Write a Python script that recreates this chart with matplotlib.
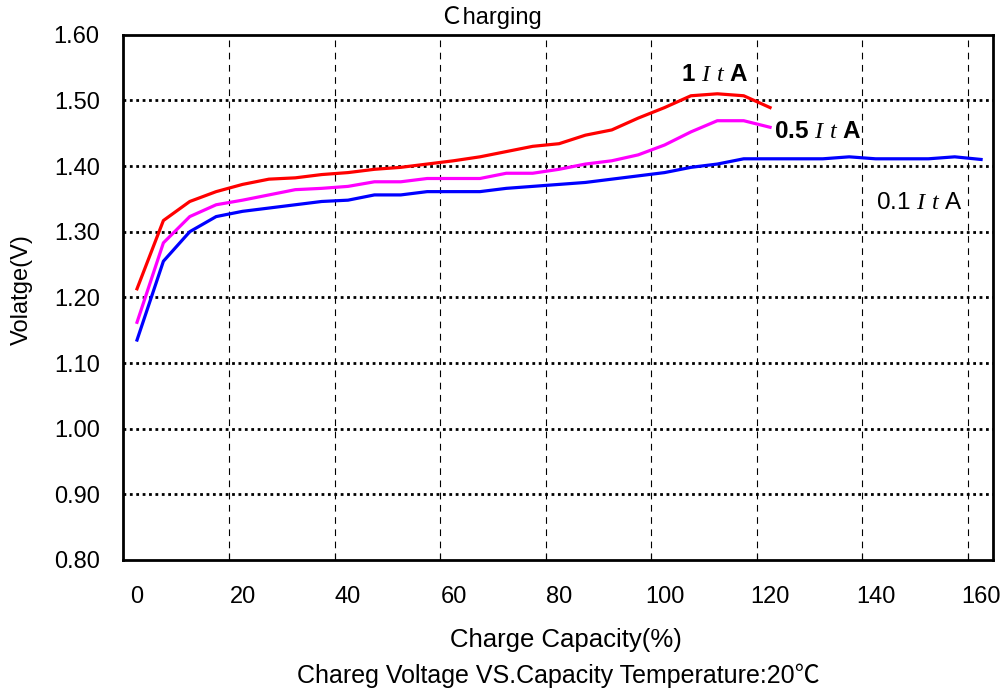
import matplotlib
matplotlib.use("Agg")
import matplotlib.pyplot as plt
from matplotlib.ticker import FixedLocator, FuncFormatter

plt.rcParams['font.family'] = ['Liberation Sans', 'Noto Sans CJK SC']
plt.rcParams['mathtext.fontset'] = 'custom'
plt.rcParams['mathtext.rm'] = 'Liberation Sans'
plt.rcParams['mathtext.it'] = 'Liberation Serif:italic'
plt.rcParams['mathtext.bf'] = 'Liberation Sans:bold'

# ---- data ----
x_1it = [0, 5, 10, 15, 20, 25, 30, 35, 40, 45, 50, 55, 60, 65, 70, 75, 80, 85, 90, 95, 100, 105, 110, 115, 120]
v_1it = [1.213, 1.317, 1.346, 1.361, 1.372, 1.380, 1.382, 1.387, 1.390, 1.395, 1.398, 1.403, 1.408,
         1.414, 1.422, 1.430, 1.434, 1.447, 1.455, 1.473, 1.489, 1.507, 1.510, 1.507, 1.489]

x_05it = [0, 5, 10, 15, 20, 25, 30, 35, 40, 45, 50, 55, 60, 65, 70, 75, 80, 85, 90, 95, 100, 105, 110, 115, 120]
v_05it = [1.162, 1.283, 1.323, 1.341, 1.348, 1.356, 1.364, 1.366, 1.369, 1.376, 1.376, 1.381, 1.381,
          1.381, 1.389, 1.389, 1.395, 1.403, 1.408, 1.417, 1.432, 1.452, 1.469, 1.469, 1.459]

x_01it = [0, 5, 10, 15, 20, 25, 30, 35, 40, 45, 50, 55, 60, 65, 70, 75, 80, 85, 90, 95, 100,
          105, 110, 115, 120, 125, 130, 135, 140, 145, 150, 155, 160]
v_01it = [1.135, 1.255, 1.300, 1.323, 1.331, 1.336, 1.341, 1.346, 1.348, 1.356, 1.356, 1.361, 1.361,
          1.361, 1.366, 1.369, 1.372, 1.375, 1.380, 1.385, 1.390, 1.398, 1.403, 1.411, 1.411, 1.411,
          1.411, 1.414, 1.411, 1.411, 1.411, 1.414, 1.410]

x_tick_labels = [0, 20, 40, 60, 80, 100, 120, 140, 160]
x_grid = [17.5, 37.5, 57.5, 77.5, 97.5, 117.5, 137.5, 157.5]
y_ticks = [0.80, 0.90, 1.00, 1.10, 1.20, 1.30, 1.40, 1.50, 1.60]

title_text = "Ｃharging"
xlabel_text = "Charge Capacity(%)"
ylabel_text = "Volatge(V)"
caption_text = "Chareg Voltage VS.Capacity Temperature:20℃"

# ---- figure ----
fig = plt.figure(figsize=(10.07, 6.92), dpi=100)
ax = fig.add_axes([123.3 / 1007, 1 - 560 / 692, (992.7 - 123.3) / 1007, (560 - 34.7) / 692])

ax.set_xlim(-2.6, 162.2)
ax.set_ylim(0.80, 1.60)

# grid lines
for gx in x_grid:
    ax.axvline(gx, color='black', lw=0.8, linestyle=(0, (6, 5)), zorder=1)
for gy in y_ticks[1:-1]:
    ax.axhline(gy, color='black', lw=2.0, linestyle=(0, (1, 1.3)), zorder=1)

ax.plot(x_01it, v_01it, color='#0000FF', lw=2.3, zorder=3, solid_joinstyle='round')
ax.plot(x_05it, v_05it, color='#FF00FF', lw=2.3, zorder=3, solid_joinstyle='round')
ax.plot(x_1it, v_1it, color='#FF0000', lw=2.3, zorder=3, solid_joinstyle='round')

# ticks
ax.xaxis.set_major_locator(FixedLocator(x_tick_labels))
ax.xaxis.set_minor_locator(FixedLocator(x_grid))
ax.yaxis.set_major_locator(FixedLocator(y_ticks))
ax.yaxis.set_major_formatter(FuncFormatter(lambda v, p: f"{v:.2f}"))
ax.tick_params(axis='x', which='major', length=0, pad=19, labelsize=17)
ax.tick_params(axis='x', which='minor', direction='in', length=5, width=0.8)
ax.tick_params(axis='y', which='major', length=0, pad=17, labelsize=17)

for s in ax.spines.values():
    s.set_linewidth(2.0)
    s.set_color('black')

# series labels
ax.text(109.6, 1.540, r"1$\:\,I\:\,t\:\,$A", fontsize=17.5, fontweight='bold', ha='center', va='center')
ax.text(120.8, 1.453, r"0.5$\:\,I\:\,t\:\,$A", fontsize=17.5, fontweight='bold', ha='left', va='center')
ax.text(140.0, 1.344, r"0.1$\:\,I\:\,t\:\,$A", fontsize=17.5, ha='left', va='center')

# titles / labels
fig.text(491 / 1007, 1 - 18 / 692, title_text, fontsize=17, ha='center', va='center')
fig.text(566 / 1007, 1 - 640 / 692, xlabel_text, fontsize=18.5, ha='center', va='center')
fig.text(558 / 1007, 1 - 676 / 692, caption_text, fontsize=18, ha='center', va='center')
fig.text(22 / 1007, 1 - 290 / 692, ylabel_text, fontsize=17, ha='center', va='center', rotation=90)

fig.savefig("out.png", dpi=100)
